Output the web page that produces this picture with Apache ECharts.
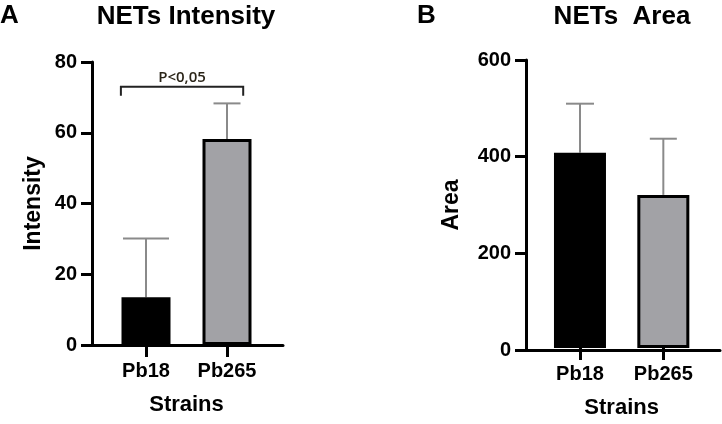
<!DOCTYPE html>
<html><head><meta charset="utf-8">
<script src="https://cdn.jsdelivr.net/npm/echarts@6/dist/echarts.min.js"></script>
<style>html,body{margin:0;padding:0;background:#fff}#c{width:722px;height:424px}</style>
</head><body><div id="c"></div>
<script>
// ---- data ----
const categories = ['Pb18', 'Pb265'];
const intensityMean = [13.5, 58.2];
const intensityErr = [16.6, 10.1];
const areaMean = [407, 319];
const areaErr = [102, 117];
const intensityTicks = [0, 20, 40, 60, 80];
const areaTicks = [0, 200, 400, 600];
const sigLabel = 'P<0,05';
const sigSpan = [-0.31, 1.2, 73]; // from category pos, to category pos, at value

// ---- styles ----
const FONT = 'Liberation Sans, Arial, sans-serif';
const barColors = ['#000000', '#a2a2a6'];
const errColor = '#8a8a8a';
const TOP_A = 62, BOT_A = 79, TOP_B = 60, BOT_B = 74;

const chart = echarts.init(document.getElementById('c'));

// axis that only carries the baseline line
function lineXAxis(gridIndex) {
  return { type: 'value', gridIndex, min: 0, max: 1,
    axisLine: { show: true, onZero: false, lineStyle: { color: '#000', width: 3 } },
    axisTick: { show: false }, axisLabel: { show: false }, splitLine: { show: false } };
}
// category axis carrying ticks, labels and name
function catXAxis(gridIndex) {
  return { type: 'category', gridIndex, data: categories, boundaryGap: true,
    name: 'Strains', nameLocation: 'middle', nameGap: 49,
    nameTextStyle: { fontFamily: FONT, fontWeight: 'bold', fontSize: 22, color: '#000' },
    axisLine: { show: false },
    axisTick: { show: true, alignWithLabel: true, length: 12, lineStyle: { color: '#000', width: 3 } },
    axisLabel: { fontFamily: FONT, fontWeight: 'bold', fontSize: 20, color: '#000', margin: 16 },
    splitLine: { show: false } };
}
function yAxisCfg(gridIndex, name, ticks, nameGap, show) {
  const max = ticks[ticks.length - 1], interval = ticks[1] - ticks[0];
  return {
    type: 'value', gridIndex, min: ticks[0], max, interval, show,
    name: show ? name : '', nameLocation: 'middle', nameGap, nameRotate: 90,
    nameTextStyle: { fontFamily: FONT, fontWeight: 'bold', fontSize: 23, color: '#000' },
    axisLine: { show: true, onZero: false, lineStyle: { color: '#000', width: 3 } },
    axisTick: { show: true, length: 11, lineStyle: { color: '#000', width: 3 } },
    axisLabel: { fontFamily: FONT, fontWeight: 'bold', fontSize: 20, color: '#000', margin: 15 },
    splitLine: { show: false }
  };
}
function barSeries(idx, means, bw) {
  return {
    type: 'bar', xAxisIndex: idx, yAxisIndex: idx, barWidth: bw, z: 3,
    data: means.map((m, i) => ({ value: m, itemStyle: { color: barColors[i], borderColor: '#000', borderWidth: 3 } }))
  };
}
function errSeries(idx, means, errs, caps) {
  return {
    type: 'custom', xAxisIndex: idx, yAxisIndex: idx, z: 2,
    data: means.map((m, i) => [i, m, m + errs[i], caps[i]]),
    renderItem: (params, api) => {
      const p0 = api.coord([api.value(0), api.value(1)]);
      const p1 = api.coord([api.value(0), api.value(2)]);
      const cw = api.value(3) / 2;
      return { type: 'group', children: [
        { type: 'line', shape: { x1: p0[0], y1: p0[1], x2: p1[0], y2: p1[1] }, style: { stroke: errColor, lineWidth: 2 } },
        { type: 'line', shape: { x1: p1[0] - cw, y1: p1[1], x2: p1[0] + cw, y2: p1[1] }, style: { stroke: errColor, lineWidth: 2 } }
      ]};
    }
  };
}

chart.setOption({
  animation: false,
  title: [
    { text: 'A', left: 0, top: 3, padding: 0, textStyle: { fontFamily: FONT, fontWeight: 'bold', fontSize: 26, color: '#000' } },
    { text: 'NETs Intensity', left: 186, top: 4, padding: 0, textAlign: 'center', textStyle: { fontFamily: FONT, fontWeight: 'bold', fontSize: 26, color: '#000' } },
    { text: 'B', left: 417, top: 3, padding: 0, textStyle: { fontFamily: FONT, fontWeight: 'bold', fontSize: 26, color: '#000' } },
    { text: 'NETs  Area', left: 622, top: 4, padding: 0, textAlign: 'center', textStyle: { fontFamily: FONT, fontWeight: 'bold', fontSize: 26, color: '#000' } }
  ],
  grid: [
    { left: 92, right: 439, top: TOP_A, bottom: BOT_A },
    { left: 105.5, right: 454.5, top: TOP_A, bottom: BOT_A },
    { left: 526, right: 2, top: TOP_B, bottom: BOT_B },
    { left: 538.3, right: 17, top: TOP_B, bottom: BOT_B }
  ],
  xAxis: [lineXAxis(0), catXAxis(1), lineXAxis(2), catXAxis(3)],
  yAxis: [yAxisCfg(0, 'Intensity', intensityTicks, 47, true),
          yAxisCfg(1, 'Intensity', intensityTicks, 47, false),
          yAxisCfg(2, 'Area', areaTicks, 63, true),
          yAxisCfg(3, 'Area', areaTicks, 63, false)],
  series: [
    errSeries(1, intensityMean, intensityErr, [46, 27]),
    barSeries(1, intensityMean, 49),
    errSeries(3, areaMean, areaErr, [28, 27]),
    barSeries(3, areaMean, 52),
    {
      type: 'custom', xAxisIndex: 1, yAxisIndex: 1, z: 4,
      data: [sigSpan],
      renderItem: (params, api) => {
        const c0 = api.coord([0, api.value(2)]);
        const c1 = api.coord([1, api.value(2)]);
        const step = c1[0] - c0[0];
        const y = c0[1];
        const xa = c0[0] + step * api.value(0);
        const xb = c0[0] + step * api.value(1);
        return { type: 'group', children: [
          { type: 'polyline', shape: { points: [[xa, y + 9], [xa, y], [xb, y], [xb, y + 9]] },
            style: { stroke: '#222', lineWidth: 2, fill: null } },
          { type: 'text', style: { x: (xa + xb) / 2, y: y - 2, text: sigLabel, align: 'center', verticalAlign: 'bottom',
            font: '600 15px "Open Sans", sans-serif', fill: '#2a2418' } }
        ]};
      }
    }
  ]
});
</script></body></html>
